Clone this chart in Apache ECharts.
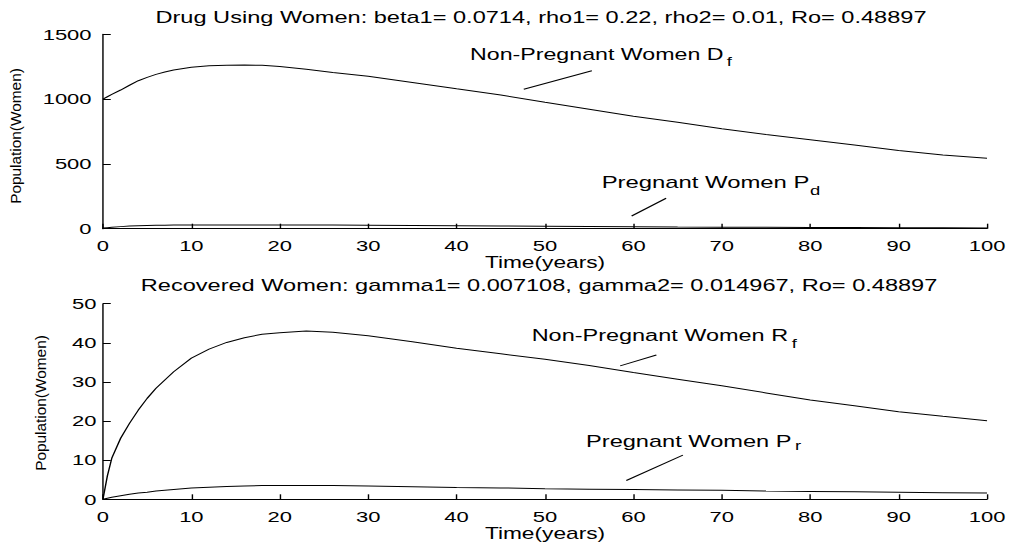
<!DOCTYPE html>
<html>
<head>
<meta charset="utf-8">
<script src="https://cdn.jsdelivr.net/npm/echarts@6.0.0/dist/echarts.min.js"></script>
<style>
  html, body { margin: 0; padding: 0; background: #fff; overflow: hidden; }
  /* the figure is laid out narrow and stretched horizontally, like the exported plot */
  #chart { width: 712px; height: 554px; transform: scaleX(1.42); transform-origin: 0 0; }
</style>
</head>
<body>
<div id="chart"></div>
<script>
// time samples (years)
const years = [0, 0.5, 1, 2, 3, 4, 5, 6, 7, 8, 10, 12, 14, 16, 18, 20, 23, 26, 30, 35,
               40, 45, 50, 55, 60, 65, 70, 75, 80, 85, 90, 95, 100];

// drug using women
const drugNonPregnant = [1000, 1018, 1036, 1070, 1107, 1142, 1168, 1191, 1209, 1225, 1245, 1257, 1262, 1263, 1261, 1252, 1231, 1206, 1176, 1128,
                         1079, 1031, 975, 922, 867, 821, 771, 727, 687, 645, 604, 569, 543];
const drugPregnant = [5, 8, 11, 16, 20, 23, 25, 26, 27, 28, 28, 29, 29, 29, 29, 29, 28, 28, 27, 25,
                      23, 21, 19, 17, 15, 13, 12, 11, 10, 9, 8, 7, 6];

// recovered women
const recNonPregnant = [0, 6, 10.5, 15.6, 19.4, 22.8, 25.8, 28.4, 30.5, 32.6, 36.1, 38.4, 40.1, 41.3, 42.2, 42.6, 43.0, 42.7, 41.8, 40.3,
                        38.6, 37.2, 35.8, 34.2, 32.4, 30.7, 29.0, 27.2, 25.4, 23.9, 22.4, 21.2, 20.1];
const recPregnant = [0, 0.25, 0.5, 0.9, 1.3, 1.6, 1.8, 2.1, 2.3, 2.5, 2.9, 3.1, 3.3, 3.4, 3.5, 3.5, 3.5, 3.5, 3.4, 3.2,
                     3.0, 2.9, 2.7, 2.6, 2.5, 2.4, 2.3, 2.1, 2.0, 1.9, 1.8, 1.7, 1.6];

// label pointer segments, in data coordinates [year, value]
const pointerDf = [[47.6, 1076], [55.3, 1219]];
const pointerPd = [[59.8, 98], [63.7, 235]];
const pointerRf = [[58.5, 34.1], [62.6, 36.9]];
const pointerPr = [[59.2, 4.8], [65.6, 11.3]];

const titleDrug = 'Drug Using Women: beta1= 0.0714, rho1= 0.22, rho2= 0.01, Ro= 0.48897';
const titleRec = 'Recovered Women: gamma1= 0.007108, gamma2= 0.014967, Ro= 0.48897';

const FONT = '"Liberation Sans", Arial, sans-serif';
const INK = '#000';
const LABEL_SIZE = 16.4;
const SUB_SIZE = 13;

function pairs(xs, ys) { return xs.map((x, i) => [x, ys[i]]); }

const measureCtx = document.createElement('canvas').getContext('2d');
function textWidth(str, size) {
  measureCtx.font = size + 'px ' + FONT;
  return measureCtx.measureText(str).width;
}

function timeAxis(gridIndex, gap) {
  return {
    type: 'value', gridIndex, min: 0, max: 100, interval: 10,
    name: 'Time(years)', nameLocation: 'middle', nameGap: gap,
    nameTextStyle: { fontFamily: FONT, fontSize: 16, color: INK },
    axisLine: { show: true, onZero: false, lineStyle: { color: INK, width: 1 } },
    axisTick: { show: true, inside: true, length: 5, lineStyle: { color: INK } },
    axisLabel: { fontFamily: FONT, fontSize: 15.5, color: INK, margin: 9 },
    splitLine: { show: false }
  };
}

function popAxis(gridIndex, max, interval, margin) {
  return {
    type: 'value', gridIndex, min: 0, max, interval,
    axisLine: { show: true, onZero: false, lineStyle: { color: INK, width: 1 } },
    axisTick: { show: true, inside: true, length: 5.5, lineStyle: { color: INK } },
    axisLabel: { fontFamily: FONT, fontSize: 15.5, color: INK, margin, formatter: v => String(v) },
    splitLine: { show: false }
  };
}

function curve(axis, data) {
  return {
    type: 'line', xAxisIndex: axis, yAxisIndex: axis, data,
    showSymbol: false, symbol: 'none', silent: true,
    lineStyle: { color: INK, width: 1 }
  };
}

function text(x, y, str, size, align, extra) {
  return Object.assign({
    type: 'text', x, y, silent: true,
    style: { text: str, fontFamily: FONT, fontSize: size, fill: INK,
             align, verticalAlign: 'middle', textAlign: align, textVerticalAlign: 'middle' }
  }, extra || {});
}

// curve label: main text spanning [x, endX], then a lowered subscript at subX
function subLabel(x, endX, y, main, subX, sub, drop) {
  const w = textWidth(main, LABEL_SIZE);
  return [
    text(x, y, main, LABEL_SIZE, 'left', { scaleX: (endX - x) / w }),
    text(subX, y + drop, sub, SUB_SIZE, 'left')
  ];
}

const chart = echarts.init(document.getElementById('chart'), null, { renderer: 'svg', width: 712, height: 554 });

chart.setOption({
  animation: false,
  backgroundColor: '#fff',
  grid: [
    { left: 72.5, right: 16.9, top: 34.3, height: 194.4 },
    { left: 72.5, right: 16.9, top: 303.7, height: 195.6 }
  ],
  xAxis: [timeAxis(0, 26), timeAxis(1, 25)],
  yAxis: [popAxis(0, 1500, 500, 8), popAxis(1, 50, 10, 4.5)],
  series: [
    curve(0, pairs(years, drugNonPregnant)),
    curve(0, pairs(years, drugPregnant)),
    curve(0, pointerDf),
    curve(0, pointerPd),
    curve(1, pairs(years, recNonPregnant)),
    curve(1, pairs(years, recPregnant)),
    curve(1, pointerRf),
    curve(1, pointerPr)
  ],
  graphic: [
    text(381, 17.3, titleDrug, 16.6, 'center'),
    text(379.6, 285, titleRec, 16.6, 'center'),
    text(10.8, 136, 'Population(Women)', 15.4, 'center', { rotation: Math.PI / 2, scaleY: 0.68 }),
    text(28.6, 403, 'Population(Women)', 15.4, 'center', { rotation: Math.PI / 2, scaleY: 0.68 })
  ].concat(
    subLabel(331, 509.5, 53.8, 'Non-Pregnant Women D', 511.8, 'f', 8),
    subLabel(423.7, 570, 182.2, 'Pregnant Women P', 570.4, 'd', 8),
    subLabel(374.4, 555, 335.5, 'Non-Pregnant Women R', 557.5, 'f', 8),
    subLabel(412.7, 557.5, 441.2, 'Pregnant Women P', 559.9, 'r', 4)
  )
});
</script>
</body>
</html>
